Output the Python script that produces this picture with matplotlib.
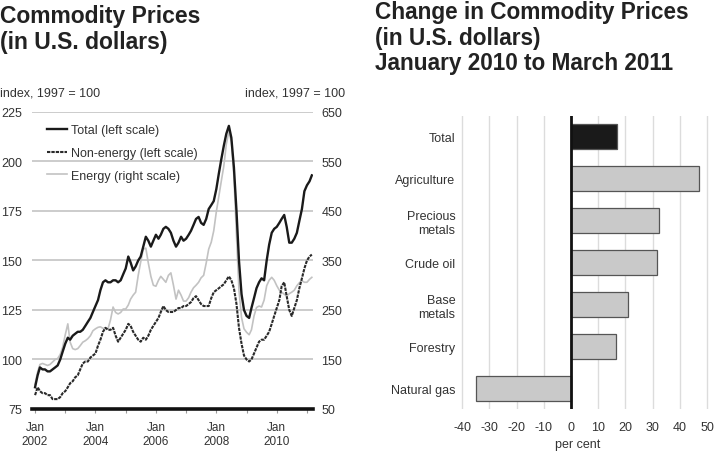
import numpy as np
import pandas as pd
import matplotlib
matplotlib.use('Agg')
import matplotlib.pyplot as plt
import matplotlib.transforms as mtransforms

plt.rcParams['font.family'] = ['Liberation Sans', 'DejaVu Sans']
plt.rcParams['axes.unicode_minus'] = False

# monthly index values, Jan 2002 - Mar 2011 (1997 = 100)
total = [
    86, 92, 96, 95, 95, 94, 94, 95, 96, 97, 100, 104,
    108, 111, 110, 112, 113, 114, 114, 115, 117, 119, 121, 124,
    127, 130, 135, 139, 140, 139, 139, 140, 140, 139, 140, 143,
    146, 152, 149, 145, 147, 150, 152, 157, 162, 160, 157, 160,
    163, 161, 163, 166, 167, 166, 164, 160, 157, 159, 162, 160,
    161, 163, 165, 168, 171, 172, 169, 168, 171, 176, 178, 180,
    186, 194, 201, 208, 214, 218, 212, 197, 175, 150, 133, 125,
    122, 121, 126, 131, 136, 139, 141, 140, 150, 158, 164, 166,
    167, 169, 171, 173, 167, 159, 159, 161, 164, 170, 176, 185,
    188, 190, 193,
]
non_energy = [
    82, 86, 84, 83, 83, 82, 82, 80, 80, 80, 81, 83,
    84, 86, 88, 89, 91, 92, 95, 98, 99, 99, 101, 102,
    103, 107, 110, 114, 116, 115, 115, 116, 112, 109, 111, 113,
    115, 118, 117, 114, 112, 110, 109, 111, 110, 112, 115, 117,
    119, 121, 124, 127, 125, 124, 124, 124, 125, 126, 126, 127,
    127, 128, 129, 131, 132, 130, 128, 127, 127, 127, 131, 134,
    135, 136, 137, 138, 140, 142, 140, 136, 128, 116, 108, 102,
    100, 99, 100, 103, 106, 109, 110, 110, 112, 114, 118, 122,
    126, 130, 137, 139, 132, 125, 122, 126, 130, 136, 141, 146,
    150, 152, 153,
]
energy = [
    100, 125, 140, 142, 140, 138, 140, 145, 150, 152, 160, 175,
    200, 222, 185, 172, 170, 172, 178, 185, 188, 192, 198, 208,
    212, 215, 216, 213, 213, 212, 230, 256, 245, 242, 245, 252,
    252, 260, 272, 280, 286, 320, 347, 373, 375, 345, 318, 300,
    298, 310, 318, 312, 306, 320, 325, 300, 272, 290, 280, 268,
    268, 275, 286, 295, 300, 306, 315, 320, 345, 373, 387, 410,
    448, 480, 510, 541, 585, 610, 590, 520, 400, 290, 235, 212,
    205, 200, 210, 238, 255, 258, 256, 270, 299, 310, 316, 310,
    299, 290, 286, 282, 278, 283, 286, 290, 299, 305, 309, 306,
    306, 312, 316,
]
months = pd.date_range('2002-01-01', periods=len(total), freq='MS')

left_ticks = [75, 100, 125, 150, 175, 200, 225]
right_ticks = [50, 150, 250, 350, 450, 550, 650]
year_ticks = pd.date_range('2002-01-01', '2011-01-01', freq='YS')
year_labels = ['Jan\n2002', '', 'Jan\n2004', '', 'Jan\n2006', '', 'Jan\n2008', '', 'Jan\n2010', '']

# change Jan 2010 - Mar 2011, per cent
categories = ['Total', 'Agriculture', 'Precious\nmetals', 'Crude oil', 'Base\nmetals', 'Forestry', 'Natural gas']
changes = [17, 47, 32.5, 31.5, 21, 16.5, -35]

txt = '#333333'
W, H = 720, 460
fig = plt.figure(figsize=(W / 100, H / 100), dpi=100)

# ---- left chart ----
ax = fig.add_axes([32 / W, 50 / H, 281 / W, 297 / H])
ax2 = ax.twinx()
ax.set_zorder(ax2.get_zorder() + 1)
ax.patch.set_visible(False)

ax2.plot(months, energy, color='#c2c2c2', lw=1.2, label='Energy (right scale)')
ax.plot(months, total, color='#1a1a1a', lw=1.7, label='Total (left scale)')
ax.plot(months, non_energy, color='#2a2a2a', lw=1.5, dashes=(1.6, 0.5), label='Non-energy (left scale)')

ax.set_ylim(75, 225)
ax2.set_ylim(50, 650)
ax.set_xlim(pd.Timestamp('2001-11-25'), pd.Timestamp('2011-03-15'))
ax.set_yticks(left_ticks)
ax2.set_yticks(right_ticks)
ax2.grid(axis='y', color='#c4c4c4', lw=1.2)
ax.tick_params(axis='y', length=0, pad=7, labelsize=9, labelcolor=txt)
ax2.tick_params(axis='y', length=0, pad=6, labelsize=9, labelcolor=txt)
ax.set_xticks(year_ticks)
ax.set_xticklabels(year_labels)
ax.tick_params(axis='x', length=3, width=0.8, color='#999999', pad=6, labelsize=8.5, labelcolor=txt)
for a in (ax, ax2):
    for s in a.spines.values():
        s.set_visible(False)
ax.spines['bottom'].set_visible(True)
ax.spines['bottom'].set_linewidth(2.6)
ax.spines['bottom'].set_color('#111111')

h1, l1 = ax.get_legend_handles_labels()
h2, l2 = ax2.get_legend_handles_labels()
leg = ax.legend(h1 + h2, l1 + l2, loc='upper left', bbox_to_anchor=(0.053, 0.958),
                frameon=False, fontsize=9, handlelength=1.6, handletextpad=0.3,
                labelspacing=0.85, borderaxespad=0, borderpad=0)
for t in leg.get_texts():
    t.set_color(txt)

fig.text(0 / W, 1 - 93 / H, 'index, 1997 = 100', fontsize=9, color=txt, va='center', ha='left')
fig.text(345 / W, 1 - 93 / H, 'index, 1997 = 100', fontsize=9, color=txt, va='center', ha='right')
fig.text(0 / W, 1 - 5 / H, 'Commodity Prices\n(in U.S. dollars)', fontsize=16.5, weight='bold',
         color='#222222', va='top', ha='left', linespacing=1.17)

# ---- right chart ----
bx = fig.add_axes([459.5 / W, 50 / H, 250.2 / W, 293 / H])
pos = np.arange(len(categories))
colors = ['#1a1a1a'] + ['#c9c9c9'] * (len(categories) - 1)
bx.barh(pos, changes, height=0.6, color=colors, edgecolor='#555555', lw=0.9, zorder=2)
bx.axvline(0, color='#111111', lw=2, zorder=3)
bx.set_xlim(-41, 51)
bx.set_ylim(len(categories) - 0.52, -0.48)
bx.set_xticks(range(-40, 51, 10))
bx.set_yticks(pos)
bx.set_yticklabels(categories)
bx.grid(axis='x', color='#dcdcdc', lw=1, zorder=0)
bx.set_axisbelow(True)
bx.tick_params(axis='y', length=0, pad=3, labelsize=9, labelcolor=txt)
bx.tick_params(axis='x', length=0, pad=9, labelsize=9, labelcolor=txt)
for t in bx.get_yticklabels():
    t.set_multialignment('right')
for s in bx.spines.values():
    s.set_visible(False)
trans = mtransforms.blended_transform_factory(bx.transData, fig.transFigure)
bx.text(2.5, 1 - 445 / H, 'per cent', transform=trans, ha='center', va='center', fontsize=9, color=txt)

fig.text(375 / W, 1 - 1 / H, 'Change in Commodity Prices\n(in U.S. dollars)\nJanuary 2010 to March 2011',
         fontsize=16.3, weight='bold', color='#222222', va='top', ha='left', linespacing=1.15)

fig.savefig('out.png', dpi=100)
